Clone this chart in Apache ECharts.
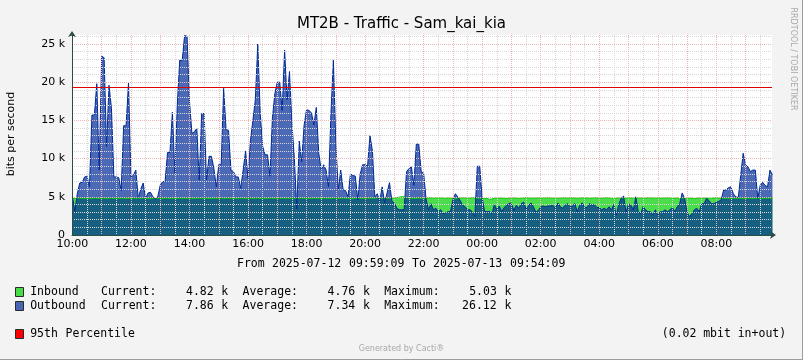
<!DOCTYPE html>
<html>
<head>
<meta charset="utf-8">
<script src="https://cdn.jsdelivr.net/npm/echarts@6/dist/echarts.min.js"></script>
<style>
html,body{margin:0;padding:0;background:#f3f3f3;}
#chart{width:803px;height:360px;}
</style>
</head>
<body>
<div id="chart"></div>
<script>
// ---------------- DATA ----------------
const titleText = 'MT2B - Traffic - Sam_kai_kia';
const yAxisTitle = 'bits per second';
const periodText = 'From 2025-07-12 09:59:09 To 2025-07-13 09:54:09';
// axis range in hours since 2025-07-12 00:00
const axisStart = 9 + 59 / 60 + 9 / 3600;
const axisEnd = 33 + 54 / 60 + 9 / 3600;
const firstSampleHour = 10;
const stepMinutes = 5;

// Inbound, k bits per second, one value per 5 minutes from 10:00
const inbound = [
4.80,4.78,4.82,4.85,4.80,4.77,4.83,4.80,4.79,4.84,4.81,4.78,
4.83,4.80,4.76,4.82,4.85,4.79,4.81,4.78,4.84,4.80,4.77,4.82,
4.79,4.83,4.80,4.76,4.82,4.85,4.78,4.80,4.74,4.81,4.79,4.83,
4.80,4.78,4.84,4.81,4.77,4.82,4.80,4.79,4.85,4.78,4.81,4.80,
4.82,4.79,4.77,4.83,4.80,4.84,4.78,4.81,4.80,4.76,4.82,4.79,
4.81,4.85,4.78,4.80,4.83,4.79,4.82,4.77,4.80,4.84,4.81,4.78,
4.80,4.83,4.79,4.81,4.85,4.78,4.82,4.80,4.77,4.83,4.81,4.79,
4.82,4.80,4.84,4.78,4.81,4.79,4.83,4.80,4.76,4.82,4.85,4.80,
4.79,4.81,4.78,4.83,4.80,4.82,4.77,4.84,4.80,4.79,4.81,4.83,
4.80,4.78,4.82,4.85,4.79,4.81,4.80,4.77,4.83,4.80,4.82,4.78,
4.81,4.79,4.84,4.80,4.82,4.92,4.78,4.81,4.83,4.79,4.80,4.82,
4.84,4.90,4.95,5.03,4.98,4.95,4.80,4.82,4.79,4.81,4.83,4.80,
4.82,4.85,4.88,4.86,4.84,4.88,4.83,4.87,4.85,4.80,4.86,4.83,
4.80,4.70,4.84,4.86,4.85,4.88,4.83,4.85,4.87,4.88,4.80,4.78,
4.78,4.75,4.80,4.65,4.70,4.82,4.86,4.84,4.85,4.80,4.78,4.82,
4.85,4.86,4.83,4.78,4.82,4.86,4.88,4.85,4.83,4.86,4.85,4.87,
4.83,4.85,4.86,4.88,4.85,4.82,4.86,4.85,4.83,4.88,4.86,4.85,
4.86,4.88,4.85,4.83,4.86,4.88,4.85,4.86,4.83,4.85,4.88,4.86,
4.85,4.83,4.86,4.88,4.85,4.82,4.70,4.86,4.83,4.85,4.86,4.83,
4.85,4.86,4.83,4.88,4.85,4.86,4.83,4.85,4.88,4.86,4.85,4.83,
4.86,4.85,4.83,4.86,4.88,4.85,4.82,4.83,4.86,4.70,4.83,4.85,
4.70,4.82,4.83,4.75,4.80,4.86,4.88,4.83,4.85,4.82,4.80,4.86,
4.88,4.85,4.83,4.80,4.82,4.79,4.81,4.80,4.78,4.82,4.80,4.79,
4.81,4.83,4.80,4.78,4.82,4.80,4.79,4.81,4.83,4.80,4.82,4.82
];

// Outbound, k bits per second, one value per 5 minutes from 10:00
const outbound = [
5.1, 3.1, 5.4, 6.8, 6.9, 7.6, 7.7, 6.3, 15.7, 15.7, 19.8, 8.5,
23.4, 23.2, 11.6, 19.6, 16.6, 7.6, 7.6, 7.5, 5.8, 14.3, 14.3, 19.9,
7.6, 7.8, 8.5, 4.8, 6.0, 6.8, 4.8, 5.5, 5.6, 5.0, 4.7, 5.0,
6.5, 7.0, 7.0, 10.8, 10.8, 16.1, 8.1, 17.0, 22.9, 22.8, 26.12, 26.0,
17.5, 13.3, 13.5, 14.0, 7.2, 15.9, 15.9, 7.2, 10.3, 10.3, 8.7, 6.3,
9.2, 9.2, 19.2, 13.8, 13.7, 8.5, 8.3, 7.6, 7.6, 6.1, 8.5, 11.0,
7.4, 12.4, 15.0, 17.7, 25.0, 15.9, 11.6, 10.5, 10.5, 7.7, 15.3, 18.5,
20.0, 20.0, 16.3, 24.2, 17.7, 21.4, 14.6, 10.0, 3.4, 12.3, 9.6, 14.4,
16.4, 16.3, 16.0, 14.4, 16.7, 10.7, 8.5, 9.2, 8.5, 6.3, 15.9, 22.9,
12.0, 5.9, 8.5, 5.9, 5.8, 5.0, 8.0, 7.8, 7.7, 4.6, 8.0, 9.2,
9.2, 9.0, 13.0, 11.0, 5.0, 5.4, 4.4, 6.3, 4.2, 5.5, 6.85, 4.4,
4.2, 3.5, 3.3, 3.3, 3.3, 8.3, 8.7, 8.9, 6.5, 11.9, 11.9, 8.3,
8.1, 4.7, 3.3, 4.1, 3.3, 3.5, 3.05, 3.3, 2.8, 2.9, 3.05, 3.05,
4.6, 5.4, 5.0, 4.5, 3.9, 3.7, 3.3, 3.3, 3.05, 2.4, 9.0, 9.0,
4.8, 3.1, 3.05, 3.1, 2.8, 4.0, 3.3, 3.8, 3.05, 3.6, 3.9, 4.1,
4.2, 3.2, 3.9, 3.5, 4.1, 4.3, 3.4, 3.8, 4.2, 3.7, 3.0, 3.2,
3.7, 3.8, 3.7, 3.8, 3.8, 3.9, 3.5, 4.2, 3.7, 3.5, 3.9, 4.1,
3.7, 3.8, 4.1, 3.05, 3.9, 4.2, 3.6, 3.6, 4.1, 3.9, 4.0, 3.6,
3.6, 3.3, 3.5, 3.3, 3.7, 3.3, 4.0, 2.6, 4.0, 4.8, 5.1, 2.9,
4.1, 3.9, 3.3, 5.0, 3.05, 2.8, 3.7, 3.3, 3.05, 3.05, 2.6, 3.3,
2.6, 3.05, 3.05, 3.3, 3.05, 3.3, 3.6, 3.05, 3.7, 4.1, 5.5, 4.8,
3.0, 2.4, 2.8, 3.3, 3.5, 3.05, 4.1, 4.1, 4.8, 4.5, 4.1, 4.1,
4.3, 4.4, 4.6, 5.9, 5.9, 6.2, 6.3, 5.4, 5.0, 4.9, 7.8, 10.7,
9.2, 8.9, 8.3, 8.5, 8.5, 4.8, 6.5, 6.9, 6.5, 6.3, 8.5, 7.86
];

const percentile95 = 19.33;        // k bits per second
const yMax = 26.18;

const xTickHours = [10, 12, 14, 16, 18, 20, 22, 24, 26, 28, 30, 32];
const xTickLabels = ['10:00','12:00','14:00','16:00','18:00','20:00','22:00','00:00','02:00','04:00','06:00','08:00'];
const yTickValues = [0, 5, 10, 15, 20, 25];
const yTickLabels = ['0','5 k','10 k','15 k','20 k','25 k'];

const legendNames = ['Inbound', 'Outbound'];
const inboundStats = ['4.82', '4.76', '5.03'];
const outboundStats = ['7.86', '7.34', '26.12'];
const percentileLabel = '95th Percentile';
const percentileNote = '(0.02 mbit in+out)';
const footerText = 'Generated by Cacti®';
const watermarkText = 'RRDTOOL / TOBI OETIKER';

// ---------------- BUILD ----------------
const times = outbound.map((_, i) => firstSampleHour + i * stepMinutes / 60);
const inData = inbound.map((v, i) => [times[i], v]);
const outData = outbound.map((v, i) => [times[i], v]);

const hourLines = [];
const halfHourLines = [];
for (let h = Math.ceil(axisStart); h <= axisEnd; h++) hourLines.push(h);
for (let h = Math.ceil(axisStart) - 0.5; h <= axisEnd; h++) if (h >= axisStart) halfHourLines.push(h);
const yMinor = [];
for (let v = 1; v < yMax; v++) if (v % 5 !== 0) yMinor.push(v);

const AX = '#2c4d43';
const MAJOR = '#ecb6b6';
const MINOR = '#d6d6d6';
const SANS = '"DejaVu Sans", sans-serif';
const MONO = '"DejaVu Sans Mono", monospace';

const chart = echarts.init(document.getElementById('chart'), null, {renderer: 'canvas'});

function tokensAt(str, x0, cw, y, fill, size) {
  const out = [];
  const re = /\S+/g; let m;
  while ((m = re.exec(str)) !== null) {
    out.push({type: 'text', x: x0 + m.index * cw, y: y, silent: true,
      style: {text: m[0], font: size + 'px ' + MONO, fill: fill || '#000',
        textAlign: 'left', textVerticalAlign: 'middle', align: 'left', verticalAlign: 'middle'}});
  }
  return out;
}
function statRow(name, s) {
  return name.padEnd(10) + 'Current:' + s[0].padStart(8) + ' k  ' +
         'Average:' + s[1].padStart(8) + ' k  ' + 'Maximum:' + s[2].padStart(8) + ' k';
}
const CW = 7.08, LX = 30.2;
const graphics = [
  {type: 'line', shape: {x1: 0, y1: 359.5, x2: 803, y2: 359.5}, style: {stroke: '#9c9c9c', lineWidth: 1}, silent: true},
  {type: 'line', shape: {x1: 802.5, y1: 0, x2: 802.5, y2: 360}, style: {stroke: '#9c9c9c', lineWidth: 1}, silent: true},
  {type: 'text', x: 401.5, y: 24, silent: true,
    style: {text: titleText, font: '15px ' + SANS, fill: '#000', textAlign: 'center', textVerticalAlign: 'middle', align: 'center', verticalAlign: 'middle'}},
  {type: 'text', x: 11, y: 134, rotation: Math.PI / 2, silent: true,
    style: {text: yAxisTitle, font: '11px ' + SANS, fill: '#000', textAlign: 'center', textVerticalAlign: 'middle', align: 'center', verticalAlign: 'middle'}},
  {type: 'text', x: 793.5, y: 59, rotation: -Math.PI / 2, silent: true,
    style: {text: watermarkText, font: '8px ' + SANS, fill: '#a8a8a8', textAlign: 'center', textVerticalAlign: 'middle', align: 'center', verticalAlign: 'middle'}},
  {type: 'text', x: 401.5, y: 349, silent: true,
    style: {text: footerText, font: '8px ' + SANS, fill: '#a8a8a8', textAlign: 'center', textVerticalAlign: 'middle', align: 'center', verticalAlign: 'middle'}},
  {type: 'rect', shape: {x: 15.5, y: 287.5, width: 8, height: 9}, style: {fill: '#49da49', stroke: '#2a2a2a', lineWidth: 1}, silent: true},
  {type: 'rect', shape: {x: 15.5, y: 301.5, width: 8, height: 9}, style: {fill: '#4966b3', stroke: '#2a2a2a', lineWidth: 1}, silent: true},
  {type: 'rect', shape: {x: 15.5, y: 329.5, width: 8, height: 9}, style: {fill: '#ff0000', stroke: '#2a2a2a', lineWidth: 1}, silent: true}
];
graphics.push(...tokensAt(periodText, 401.5 - periodText.length * 7.0 / 2, 7.0, 264, '#000', 11.5));
graphics.push(...tokensAt(statRow(legendNames[0], inboundStats), LX, CW, 292, '#000', 11.5));
graphics.push(...tokensAt(statRow(legendNames[1], outboundStats), LX, CW, 306, '#000', 11.5));
graphics.push(...tokensAt(percentileLabel, LX, CW, 334, '#000', 11.5));
graphics.push(...tokensAt(percentileNote, 786 - percentileNote.length * 6.9, 6.9, 334, '#000', 11.5));

const option = {
  animation: false,
  backgroundColor: '#f3f3f3',
  grid: {left: 72, top: 35, width: 700, height: 200, show: true, backgroundColor: '#ffffff', borderWidth: 0},
  xAxis: [
    {type: 'value', min: axisStart, max: axisEnd, position: 'bottom', z: 3,
      axisLine: {show: true, onZero: false, lineStyle: {color: AX, width: 1}, symbol: ['none', 'arrow'], symbolSize: [6, 6], symbolOffset: [0, 4]},
      axisTick: {show: false, customValues: hourLines},
      axisLabel: {customValues: xTickHours, color: '#000', fontFamily: SANS, fontSize: 11, margin: 4,
        formatter: v => xTickLabels[xTickHours.indexOf(Math.round(v))] || ''},
      splitLine: {show: true, lineStyle: {color: MAJOR, width: 1, type: [1, 1]}}},
    {type: 'value', min: axisStart, max: axisEnd, position: 'bottom', z: 3,
      axisLine: {show: false}, axisTick: {show: false, customValues: halfHourLines}, axisLabel: {show: false},
      splitLine: {show: true, lineStyle: {color: MINOR, width: 1, type: [1, 1]}}}
  ],
  yAxis: [
    {type: 'value', min: 0, max: yMax, z: 3,
      axisLine: {show: true, onZero: false, lineStyle: {color: AX, width: 1}, symbol: ['none', 'arrow'], symbolSize: [6, 6], symbolOffset: [0, 4]},
      axisTick: {show: false, customValues: yTickValues},
      axisLabel: {customValues: yTickValues, color: '#000', fontFamily: SANS, fontSize: 11, margin: 7,
        formatter: v => yTickLabels[yTickValues.indexOf(Math.round(v))] || ''},
      splitLine: {show: true, lineStyle: {color: MAJOR, width: 1, type: [1, 1]}}},
    {type: 'value', min: 0, max: yMax, z: 3,
      axisLine: {show: false}, axisTick: {show: false, customValues: yMinor}, axisLabel: {show: false},
      splitLine: {show: true, lineStyle: {color: MINOR, width: 1, type: [1, 1]}}}
  ],
  series: [
    {name: 'Inbound', type: 'line', data: inData, symbol: 'none', xAxisIndex: 0, yAxisIndex: 0,
      lineStyle: {color: '#00cf00', width: 1}, areaStyle: {color: 'rgba(0,207,0,0.7)', opacity: 1}, z: 2},
    {name: 'Outbound', type: 'line', data: outData, symbol: 'none', xAxisIndex: 0, yAxisIndex: 0,
      lineStyle: {color: '#002a97', width: 1}, areaStyle: {color: 'rgba(0,42,151,0.7)', opacity: 1}, z: 2,
      markLine: {silent: true, symbol: ['none', 'none'], label: {show: false}, z: 5,
        lineStyle: {color: '#dd0000', width: 1, type: 'solid'}, data: [{yAxis: percentile95}]}}
  ],
  graphic: graphics
};
chart.setOption(option);
</script>
</body>
</html>
